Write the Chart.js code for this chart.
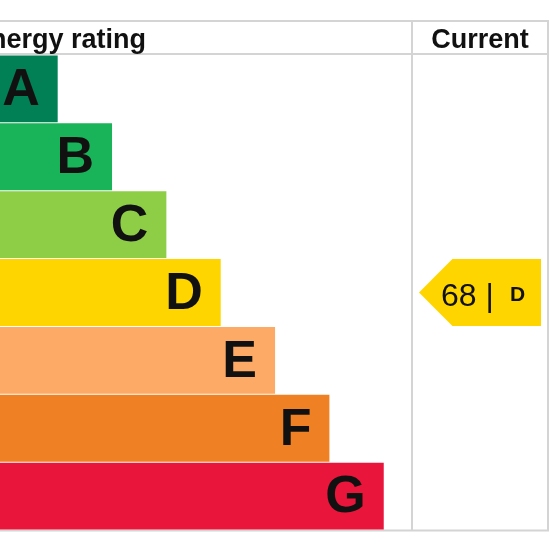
<!DOCTYPE html>
<html>
<head>
<meta charset="utf-8">
<title>Energy rating</title>
<script src="https://cdn.jsdelivr.net/npm/chart.js@4"></script>
<style>
  html, body { margin: 0; padding: 0; width: 550px; height: 550px; overflow: hidden; background: #fff; }
  #grafica { position: absolute; left: -51px; top: 0; }
</style>
</head>
<body>
<canvas id="grafica" width="601" height="550"></canvas>
<script>
// bands of the rating, longest bar = worst band
const bandas = ["A", "B", "C", "D", "E", "F", "G"];
const longitudes = [2, 3, 4, 5, 6, 7, 8];
const colores = ["#008054", "#19b459", "#8dce46", "#ffd500", "#fcaa65", "#ef8023", "#e9153b"];

const puntuacionActual = 68;
const bandaActual = "D";

const tituloIzq = "Energy rating";
const tituloDer = "Current";

const FUENTE = "'Liberation Sans', Arial, sans-serif";
const GRIS = "#d4d4d4";

// table lines behind the bars
const marco = {
  id: "marco",
  beforeDatasetsDraw(chart) {
    const ctx = chart.ctx;
    const area = chart.chartArea;
    const colIzq = area.right;
    const colDer = 599;
    ctx.save();
    ctx.strokeStyle = GRIS;
    ctx.lineWidth = 2;
    ctx.beginPath();
    ctx.moveTo(0, 21); ctx.lineTo(colDer + 1, 21);
    ctx.moveTo(0, 54); ctx.lineTo(colDer + 1, 54);
    ctx.moveTo(0, 530.5); ctx.lineTo(colDer + 1, 530.5);
    ctx.moveTo(colIzq, 21); ctx.lineTo(colIzq, 531);
    ctx.moveTo(colDer, 21); ctx.lineTo(colDer, 531);
    ctx.stroke();

    ctx.fillStyle = "#111";
    ctx.font = "bold 27px " + FUENTE;
    ctx.textBaseline = "alphabetic";
    ctx.textAlign = "left";
    ctx.fillText(tituloIzq, 23, 47.5);
    ctx.textAlign = "center";
    ctx.fillText(tituloDer, (colIzq + colDer) / 2, 47.5);
    ctx.restore();
  },
  afterDatasetsDraw(chart) {
    const ctx = chart.ctx;
    const barras = chart.getDatasetMeta(0).data;
    ctx.save();
    ctx.fillStyle = "#111";
    ctx.font = "bold 52px " + FUENTE;
    ctx.textAlign = "right";
    ctx.textBaseline = "middle";
    barras.forEach((b, i) => {
      ctx.fillText(bandas[i], b.x - 18, b.y + 2);
    });

    // arrow for the current rating
    const i = bandas.indexOf(bandaActual);
    const b = barras[i];
    const y = chart.scales.y.getPixelForValue(i);
    const h = b.height / 2;
    const punta = chart.chartArea.right + 7;
    const fin = 592;
    ctx.fillStyle = colores[i];
    ctx.beginPath();
    ctx.moveTo(punta, y);
    ctx.lineTo(punta + h, y - h);
    ctx.lineTo(fin, y - h);
    ctx.lineTo(fin, y + h);
    ctx.lineTo(punta + h, y + h);
    ctx.closePath();
    ctx.fill();

    ctx.fillStyle = "#111";
    ctx.textAlign = "left";
    ctx.textBaseline = "alphabetic";
    ctx.font = "32px " + FUENTE;
    ctx.fillText(puntuacionActual + " |", punta + 22, y + 13);
    ctx.font = "bold 21px " + FUENTE;
    ctx.fillText(bandaActual, punta + 91, y + 8.5);
    ctx.restore();
  }
};

new Chart(document.getElementById("grafica"), {
  type: "bar",
  data: {
    labels: bandas,
    datasets: [{
      data: longitudes,
      backgroundColor: colores,
      borderWidth: 0,
      categoryPercentage: 1,
      barPercentage: 0.985
    }]
  },
  options: {
    indexAxis: "y",
    responsive: false,
    animation: false,
    layout: { padding: { top: 55, bottom: 20, left: 0, right: 138 } },
    scales: {
      x: { display: false, min: 0, max: 8.52 },
      y: { display: false }
    },
    plugins: {
      legend: { display: false },
      tooltip: { enabled: false }
    }
  },
  plugins: [marco]
});
</script>
</body>
</html>
